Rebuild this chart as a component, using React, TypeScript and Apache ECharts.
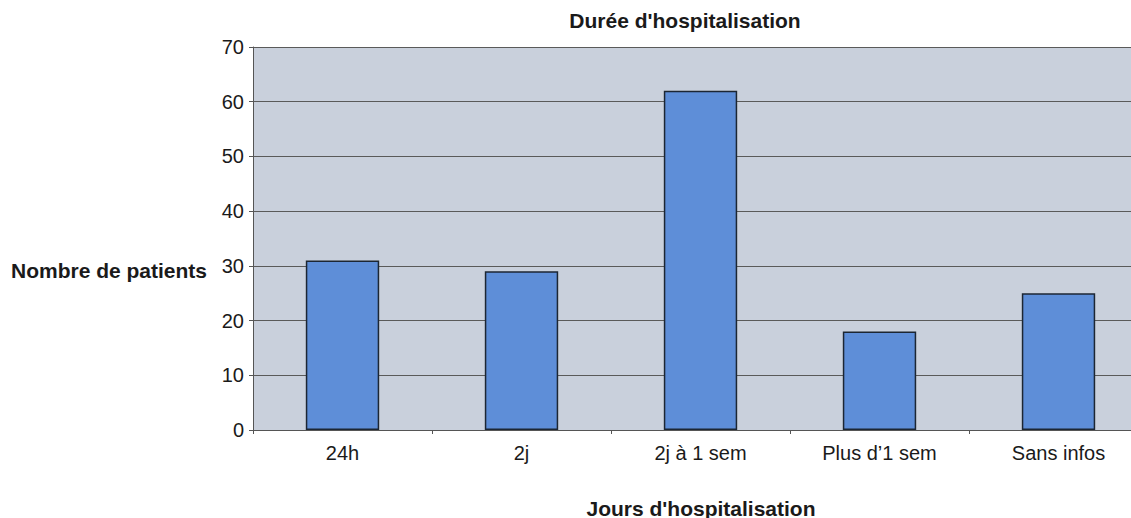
import React, { useEffect, useRef } from "react";
import * as echarts from "echarts";

const categories = ["24h", "2j", "2j à 1 sem", "Plus d’1 sem", "Sans infos"];
const patients = [31, 29, 62, 18, 25];
const chartTitle = "Durée d'hospitalisation";
const yAxisTitle = "Nombre de patients";
const xAxisTitle = "Jours d'hospitalisation";

const FONT = "'Liberation Sans', Arial, sans-serif";

export default function App() {
  const ref = useRef<HTMLDivElement>(null);

  useEffect(() => {
    if (!ref.current) return;
    const chart = echarts.init(ref.current, null, { renderer: "svg" });
    chart.setOption({
      animation: false,
      backgroundColor: "#ffffff",
      textStyle: { fontFamily: FONT },
      // the plot runs past the right edge of the visible frame
      grid: {
        left: 253,
        top: 47,
        bottom: 88,
        right: 2,
        show: true,
        backgroundColor: "#c9d0dc",
        borderWidth: 0,
      },
      graphic: [
        {
          type: "text",
          x: 685,
          y: 20,
          style: {
            text: chartTitle,
            font: `bold 21px ${FONT}`,
            fill: "#1a1a1a",
            align: "center",
            verticalAlign: "middle",
          },
        },
        {
          type: "text",
          x: 11,
          y: 270,
          style: {
            text: yAxisTitle,
            font: `bold 21px ${FONT}`,
            fill: "#1a1a1a",
            align: "left",
            verticalAlign: "middle",
          },
        },
        {
          type: "text",
          x: 701,
          y: 508,
          style: {
            text: xAxisTitle,
            font: `bold 21px ${FONT}`,
            fill: "#1a1a1a",
            align: "center",
            verticalAlign: "middle",
          },
        },
      ],
      xAxis: {
        type: "category",
        data: categories,
        boundaryGap: true,
        axisLine: { lineStyle: { color: "#555", width: 1 } },
        axisTick: {
          show: true,
          alignWithLabel: false,
          length: 4,
          lineStyle: { color: "#555" },
        },
        axisLabel: {
          color: "#1a1a1a",
          fontSize: 20,
          fontFamily: FONT,
          margin: 13,
        },
      },
      yAxis: {
        type: "value",
        min: 0,
        max: 70,
        interval: 10,
        axisLine: { show: true, lineStyle: { color: "#555", width: 1 } },
        axisTick: { show: true, length: 4, lineStyle: { color: "#555" } },
        axisLabel: {
          color: "#1a1a1a",
          fontSize: 20,
          fontFamily: FONT,
          margin: 9,
        },
        splitLine: { show: true, lineStyle: { color: "#5a5a5a", width: 1 } },
      },
      series: [
        {
          type: "bar",
          data: patients,
          barWidth: "41%",
          itemStyle: {
            color: "#5e8ed8",
            borderColor: "#1c2633",
            borderWidth: 1.5,
          },
        },
      ],
    });
    return () => chart.dispose();
  }, []);

  return (
    <div
      style={{
        position: "fixed",
        left: 0,
        top: 0,
        width: 1131,
        height: 518,
        overflow: "hidden",
      }}
    >
      <div ref={ref} style={{ width: 1150, height: 518 }} />
    </div>
  );
}
